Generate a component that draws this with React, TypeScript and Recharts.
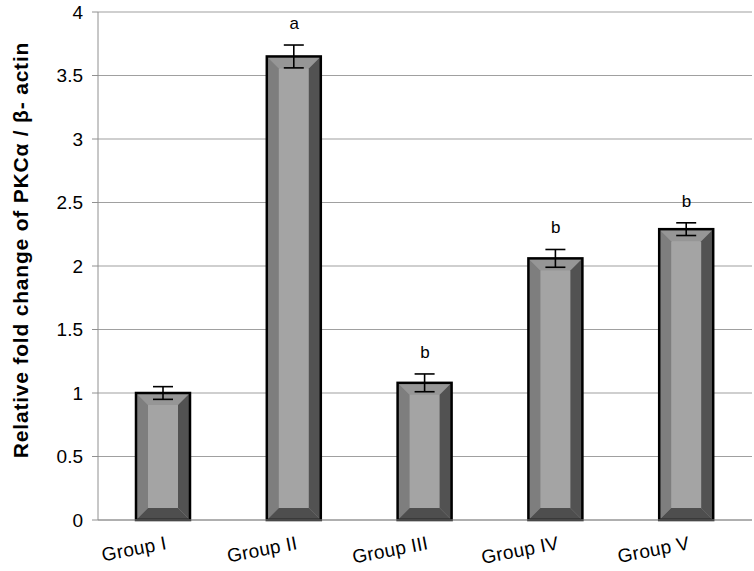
import { ComposedChart, Bar, Line, XAxis, YAxis, CartesianGrid, ErrorBar, LabelList } from 'recharts'

const GROUPS = ['Group I', 'Group II', 'Group III', 'Group IV', 'Group V']
const FOLD = [1.0, 3.65, 1.08, 2.06, 2.29]
const ERR = [0.05, 0.09, 0.07, 0.07, 0.05]
const SIG = ['', 'a', 'b', 'b', 'b']
const Y_TICKS = [0, 0.5, 1, 1.5, 2, 2.5, 3, 3.5, 4]
const BOUNDS = [0, 1, 2, 3, 4, 5]

const data = GROUPS.map((g, i) => ({ group: g, mid: i + 0.5, fold: FOLD[i], err: ERR[i], top: FOLD[i] + ERR[i], sig: SIG[i] }))

const FONT = '"Liberation Sans", Arial, sans-serif'

function BevelBar(props: any) {
  const { x, y, width: w, height: h } = props
  if (!h || h <= 0) return null
  const b = Math.min(12, h / 2)
  const pts = (arr: number[][]) => arr.map(p => p.join(',')).join(' ')
  return (
    <g>
      <rect x={x} y={y} width={w} height={h} fill="#a4a4a4" />
      <polygon points={pts([[x, y], [x + w, y], [x + w - b, y + b], [x + b, y + b]])} fill="#969696" />
      <polygon points={pts([[x, y], [x + b, y + b], [x + b, y + h - b], [x, y + h]])} fill="#7e7e7e" />
      <polygon points={pts([[x + w, y], [x + w - b, y + b], [x + w - b, y + h - b], [x + w, y + h]])} fill="#525252" />
      <polygon points={pts([[x, y + h], [x + w, y + h], [x + w - b, y + h - b], [x + b, y + h - b]])} fill="#4e4e4e" />
      <rect x={x} y={y} width={w} height={h} fill="none" stroke="#000" strokeWidth={2.5} />
    </g>
  )
}

// boundary axis: tick marks only
function NoLabel() {
  return <g />
}

function GroupLabel(props: any) {
  const { x, y, payload } = props
  const tx = x + 4
  const ty = y + 21
  return (
    <text x={tx} y={ty} transform={`rotate(-11 ${tx} ${ty})`} textAnchor="end" fontFamily={FONT} fontSize={19} letterSpacing={0.3} fill="#000">
      {payload.value}
    </text>
  )
}

function YLabel(props: any) {
  const { viewBox } = props
  const cx = 20
  const cy = viewBox.y + viewBox.height / 2 - 16
  return (
    <text x={cx} y={cy} transform={`rotate(-90 ${cx} ${cy})`} textAnchor="middle" dominantBaseline="central" fontFamily={FONT} fontWeight="bold" fontSize={21} letterSpacing={0.8} fill="#000">
      Relative fold change of PKCα  / β- actin
    </text>
  )
}

export default function App() {
  return (
    <div style={{ position: 'absolute', left: 0, top: 0, width: 754, height: 571, background: '#fff' }}>
      <ComposedChart width={754} height={571} data={data} margin={{ top: 12, right: 2, bottom: 0, left: 0 }} barCategoryGap="29%">
        <CartesianGrid vertical={false} stroke="#a0a0a0" strokeWidth={1.2} />
        <XAxis xAxisId="bounds" dataKey="mid" type="number" domain={[0, 5]} ticks={BOUNDS} interval={0} tick={<NoLabel />} tickLine={{ stroke: '#808080' }} tickSize={7} axisLine={false} height={0} orientation="bottom" />
        <XAxis dataKey="group" height={51} tick={<GroupLabel />} tickLine={false} axisLine={{ stroke: '#909090' }} interval={0} />
        <YAxis
          domain={[0, 4]}
          ticks={Y_TICKS}
          width={98}
          tickSize={6}
          tickLine={{ stroke: '#909090' }}
          axisLine={{ stroke: '#909090' }}
          tick={{ fill: '#000', fontSize: 19, fontFamily: FONT }}
          tickMargin={9}
          label={<YLabel />}
        />
        <Bar dataKey="fold" barSize={54} shape={<BevelBar />} isAnimationActive={false}>
          <ErrorBar dataKey="err" width={10} stroke="#000" strokeWidth={1.6} />
        </Bar>
        <Line xAxisId="bounds" dataKey="top" stroke="none" dot={false} activeDot={false} isAnimationActive={false}>
          <LabelList dataKey="sig" position="top" offset={16} style={{ fontFamily: FONT, fontSize: 17, fill: '#000' }} />
        </Line>
      </ComposedChart>
    </div>
  )
}
